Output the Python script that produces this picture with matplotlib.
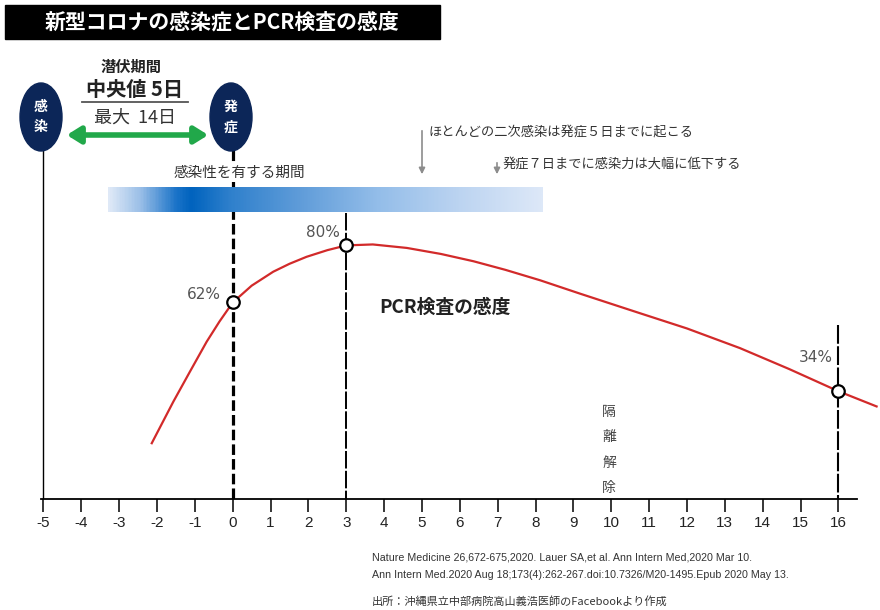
import matplotlib
matplotlib.use('Agg')
import matplotlib.pyplot as plt
import numpy as np
from matplotlib.patches import Ellipse, Rectangle, FancyArrowPatch
from matplotlib.colors import LinearSegmentedColormap

plt.rcParams['font.family'] = ['Noto Sans CJK JP', 'DejaVu Sans']
NARROW = ['Liberation Sans Narrow', 'Liberation Sans', 'DejaVu Sans']

# データ
days = list(range(-5, 17))
curve_days = [-2.14, -1.57, -1.13, -0.69, -0.35, 0, 0.5, 1.07, 1.5, 1.95, 2.5, 3, 3.7,
              4.6, 5.5, 6.36, 7.2, 8.12, 9.17, 10.76, 12, 13.4, 14.7, 16, 17.01]
curve_sens = [17.6, 30.7, 40.2, 49.6, 56.0, 62, 67.3, 71.7, 74.2, 76.4, 78.5, 80, 80.3,
              79.2, 77.3, 75.0, 72.3, 69.0, 64.8, 58.6, 53.8, 47.6, 41.0, 34, 29.2]
point_days = [0, 3, 16]
point_sens = [62, 80, 34]
point_labels = ['62%', '80%', '34%']

title = '新型コロナの感染症とPCR検査の感度'
notes = ['Nature Medicine 26,672-675,2020. Lauer SA,et al. Ann Intern Med,2020 Mar 10.',
         'Ann Intern Med.2020 Aug 18;173(4):262-267.doi:10.7326/M20-1495.Epub 2020 May 13.']
source = '出所：沖縄県立中部病院高山義浩医師のFacebookより作成'

# 画素 <-> データの対応
AXIS_PX = 499
PX_PER_DAY = 37.85
DAY0_PX = 43.5  # -5 の位置
PX_PER_PCT = 3.17


def py(p):
    return (AXIS_PX - p) / PX_PER_PCT


fig = plt.figure(figsize=(8.8, 6.1), dpi=100)
fig.patch.set_facecolor('white')

ax = fig.add_axes([0, (610 - AXIS_PX) / 610, 1, AXIS_PX / 610])
ax.set_xlim(-5 - DAY0_PX / PX_PER_DAY, -5 + (880 - DAY0_PX) / PX_PER_DAY)
ax.set_ylim(0, AXIS_PX / PX_PER_PCT)
for s in ['top', 'left', 'right']:
    ax.spines[s].set_visible(False)
ax.spines['bottom'].set_bounds(-5.07, 16.5)
ax.spines['bottom'].set_linewidth(1.3)
ax.set_yticks([])
ax.set_xticks(days)
ax.set_xticklabels([str(d) for d in days], family=NARROW, fontsize=11, color='#222')
ax.tick_params(axis='x', direction='out', length=9.4, width=1.1, pad=3)
ax.patch.set_alpha(0)

# 縦線
ax.plot([-5, -5], [py(151), 0], color='black', lw=1.0)
ax.plot([0, 0], [py(150), 0], color='black', lw=2.3, dashes=(3.3, 1.3))
ax.plot([3, 3], [py(213), 0], color='black', lw=1.4, dashes=(9, 1.2))
ax.plot([16, 16], [py(325), 0], color='black', lw=1.5, dashes=(9, 1.2))

# 感度カーブ
ax.plot(curve_days, curve_sens, color='#d22a2a', lw=1.6, zorder=3)
ax.plot(point_days, point_sens, 'o', ms=9, mfc='white', mec='black', mew=1.6, zorder=4)
label_offsets = [(-21, 6), (-17, 9), (-16, 24)]
for d, v, lab, off in zip(point_days, point_sens, point_labels, label_offsets):
    ax.annotate(lab, (d, v), textcoords='offset points', xytext=off, ha='center', va='center',
                fontsize=11, color='#555555', family=['DejaVu Sans'])

# 画素座標のレイヤー
deco = fig.add_axes([0, 0, 1, 1], zorder=3)
deco.set_xlim(0, 880)
deco.set_ylim(610, 0)
deco.axis('off')

# タイトル
deco.add_patch(Rectangle((5, 5), 435, 34, color='black'))
deco.text(222, 22, title, color='white', fontsize=15, fontweight='bold', ha='center', va='center')

# 感染・発症の楕円
for cx, txt in [(41, '感\n染'), (231, '発\n症')]:
    deco.add_patch(Ellipse((cx, 117), 42, 68, color='#0c2658'))
    deco.text(cx, 117, txt, color='white', fontsize=10, fontweight='bold', ha='center', va='center',
              linespacing=1.6)

deco.text(131, 67, '潜伏期間', fontsize=11, fontweight='bold', ha='center', va='center', color='#222')
deco.text(135, 90, '中央値 5日', fontsize=14.5, fontweight='bold', ha='center', va='center', color='#222')
deco.plot([82, 188], [102, 102], color='#555555', lw=1.3)
deco.text(135, 118, '最大  14日', fontsize=13, ha='center', va='center', color='#333')

arrow = FancyArrowPatch((64, 135), (211, 135), arrowstyle='<|-|>,head_length=0.8,head_width=0.5',
                        mutation_scale=10, lw=4, color='#21a84a')
deco.add_patch(arrow)

# 感染性を有する期間（グラデーション）
deco.text(239, 173, '感染性を有する期間', fontsize=10.5, ha='center', va='center', color='#333',
          bbox=dict(facecolor='white', edgecolor='none', pad=1.5))
grad_pos = [0.0, 0.07, 0.155, 0.19, 0.28, 0.44, 0.62, 0.81, 1.0]
grad_col = ['#dfe9f7', '#9cc0e8', '#1a73c8', '#0063be', '#2f80cc', '#5f9cd9', '#93bde9', '#bcd4f1', '#dde8f8']
cmap = LinearSegmentedColormap.from_list('infect', list(zip(grad_pos, grad_col)))
deco.imshow(np.linspace(0, 1, 400).reshape(1, -1), cmap=cmap, aspect='auto',
            extent=[108, 543, 212, 187], zorder=2)
deco.set_xlim(0, 880)
deco.set_ylim(610, 0)

# 注釈の矢印
for x0, y0, txt in [(422, 128, 'ほとんどの二次感染は発症５日までに起こる'),
                    (497, 160, '発症７日までに感染力は大幅に低下する')]:
    deco.annotate('', xy=(x0, 177), xytext=(x0, y0),
                  arrowprops=dict(arrowstyle='-|>', color='#8c8c8c', lw=1.2, mutation_scale=9))
    deco.text(x0 + 6, y0 + 4, txt, fontsize=9.5, ha='left', va='center', color='#333')

deco.text(445, 307, 'PCR検査の感度', fontsize=13.5, fontweight='bold', ha='center', va='center', color='#222')

for i, ch in enumerate('隔離解除'):
    deco.text(609, 412 + i * 25.3, ch, fontsize=10, ha='center', va='center', color='#444')

# 出典
deco.text(372, 557, notes[0], fontsize=7.7, family=NARROW, ha='left', va='center', color='#333')
deco.text(372, 575, notes[1], fontsize=7.7, family=NARROW, ha='left', va='center', color='#333')
deco.text(372, 601, source, fontsize=8, ha='left', va='center', color='#333')

fig.savefig('out.png', dpi=100)
